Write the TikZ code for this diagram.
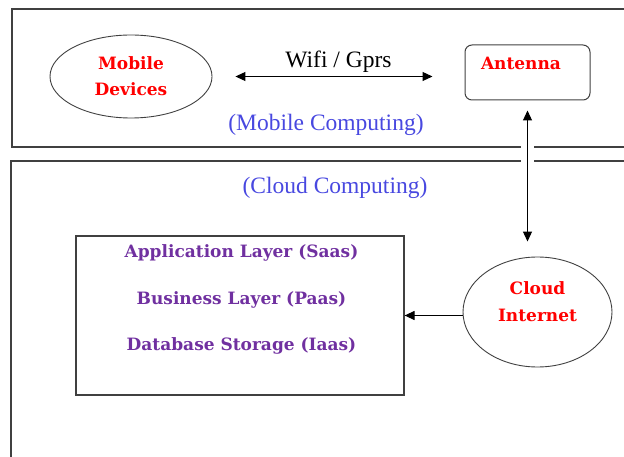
\documentclass[tikz,border=0pt]{standalone}
\usepackage{fontspec}
\setmainfont{Liberation Serif}
\newfontfamily\slabfont{DejaVu Serif}
\usetikzlibrary{arrows.meta,positioning,shapes.geometric}
\definecolor{framegray}{RGB}{64,64,64}
\definecolor{txtred}{RGB}{255,0,0}
\definecolor{txtpurple}{RGB}{112,48,160}
\definecolor{txtblue}{RGB}{72,72,224}
\tikzstyle{panel}=[draw=framegray,line width=1.2pt]
\tikzstyle{oval}=[ellipse,draw=framegray,line width=0.9pt,inner sep=0pt]
\tikzstyle{redtxt}=[text=txtred,font=\slabfont\bfseries\fontsize{17}{26}\selectfont,align=center,inner sep=0pt]
\tikzstyle{layertxt}=[text=txtpurple,font=\slabfont\bfseries\fontsize{17}{20}\selectfont,inner sep=0pt]
\tikzstyle{bluetxt}=[text=txtblue,font=\fontsize{23.5}{28}\selectfont]
\tikzstyle{arrow}=[{Triangle[length=10pt,width=9pt]}-{Triangle[length=10pt,width=9pt]},line width=1.1pt,draw=black]
\tikzstyle{onearrow}=[-{Triangle[length=10pt,width=9pt]},line width=1.1pt,draw=black]

\begin{document}
\begin{tikzpicture}[x=1pt,y=-1pt]
  \useasboundingbox (0,0) rectangle (624,457);
  \clip (0,0) rectangle (624,457);
  % the two areas
  \draw[panel] (12,9) rectangle (640,147);
  \draw[panel] (11,161) rectangle (640,470);

  % mobile side
  \node[oval,redtxt,minimum width=162pt,minimum height=83pt] (mob) at (131,76.5) {Mobile\\Devices};
  \node[draw=framegray,line width=1pt,rounded corners=7pt,minimum width=125pt,minimum height=55pt] (ant) at (527.5,72.5) {};
  \node[redtxt] (anttxt) at ([xshift=-6.5pt,yshift=9.5pt]ant.center) {Antenna};
  \node[bluetxt] (mobcomp) at (326,125) {(Mobile Computing)};

  % cloud side
  \node[bluetxt] (cloudcomp) at (335,188) {(Cloud Computing)};
  \node[oval,minimum width=149pt,minimum height=110pt] (cloud) at (537.5,312) {};
  \node[redtxt,font=\slabfont\bfseries\fontsize{17}{27}\selectfont] (cloudtxt) at ([yshift=10.5pt]cloud.center) {Cloud\\Internet};
  \node[draw=framegray,line width=1.2pt,minimum width=328pt,minimum height=159pt] (layers) at (240,315.5) {};
  \node[layertxt] (saas) at (241.5,253) {Application Layer (Saas)};
  \node[layertxt,below=29.5pt of saas] (paas) {Business Layer (Paas)};
  \node[layertxt,below=29.5pt of paas] (iaas) {Database Storage (Iaas)};

  \draw[arrow,shorten <=23pt,shorten >=32pt] (mob.east) -- node[midway,above,font=\fontsize{23.5}{28}\selectfont] (wifi) {Wifi / Gprs} (mob.east -| ant.west);
  \draw[arrow,shorten <=10pt,shorten >=15pt,preaction={draw=white,line width=13pt}] (ant.south) -- (ant.south |- cloud.north);
  \draw[onearrow] (cloud.west |- layers.east) -- (layers.east);
\end{tikzpicture}
\end{document}
